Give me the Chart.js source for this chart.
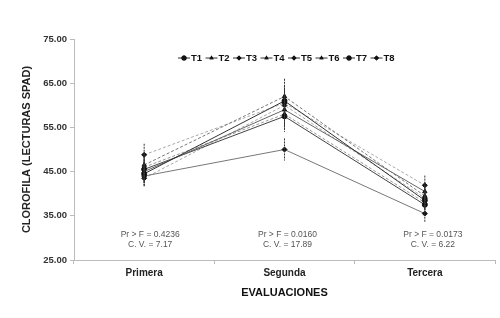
<!DOCTYPE html>
<html>
<head>
<meta charset="utf-8">
<script src="https://cdn.jsdelivr.net/npm/chart.js@4"></script>
<style>
  html, body { margin: 0; padding: 0; background: #fff; }
  #wrap { position: relative; width: 500px; height: 318px; }
</style>
</head>
<body>
<div id="wrap"><canvas id="spadChart"></canvas></div>
<script>
// categories and tick labels
const evaluaciones = ["Primera", "Segunda", "Tercera"];
const yTicks = [25, 35, 45, 55, 65, 75];

// series values (SPAD readings)
const t1 = [44.5, 61.0, 38.5];
const t2 = [46.5, 62.0, 39.5];
const t3 = [48.8, 60.5, 41.9];
const t4 = [45.0, 59.0, 40.5];
const t5 = [44.0, 50.0, 35.5];
const t6 = [46.0, 58.0, 38.0];
const t7 = [45.5, 57.5, 37.5];
const t8 = [43.5, 60.0, 39.0];

// error bar half widths per treatment, one list per evaluation
const errPrimera = [2.5, 2.5, 2.5, 2.5, 2.3, 2.5, 2.5, 2.0];
const errSegunda = [3.5, 4.0, 3.5, 3.5, 2.5, 3.5, 3.5, 3.5];
const errTercera = [2.0, 2.0, 2.2, 2.0, 2.0, 2.0, 2.0, 2.0];

// statistics under each evaluation
const prF = ["Pr > F = 0.4236", "Pr > F = 0.0160", "Pr > F = 0.0173"];
const cv = ["C. V. = 7.17", "C. V. = 17.89", "C. V. = 6.22"];

const series = [t1, t2, t3, t4, t5, t6, t7, t8];
const errs = [errPrimera, errSegunda, errTercera];
const names = ["T1", "T2", "T3", "T4", "T5", "T6", "T7", "T8"];
const colors = ["#333", "#777", "#aaa", "#666", "#777", "#999", "#444", "#aaa"];
const dashes = [[], [3, 2], [3, 2], [], [], [3, 2], [], [3, 2]];
const shapes = ["circle", "triangle", "rectRot", "triangle", "rectRot", "triangle", "circle", "rectRot"];
const statShift = [6, 3, 8];

const errorBars = {
  id: "errorBars",
  afterDatasetsDraw(chart) {
    const { ctx, scales } = chart;
    ctx.save();
    ctx.strokeStyle = "#333";
    ctx.lineWidth = 1;
    ctx.setLineDash([2, 1]);
    series.forEach(function (vals, i) {
      vals.forEach(function (v, j) {
        const x = scales.x.getPixelForValue(j);
        const top = scales.y.getPixelForValue(v + errs[j][i]);
        const bot = scales.y.getPixelForValue(v - errs[j][i]);
        ctx.beginPath();
        ctx.moveTo(x, top);
        ctx.lineTo(x, bot);
        ctx.stroke();
      });
    });
    ctx.setLineDash([]);
    ctx.restore();
  },
};

const statsText = {
  id: "statsText",
  afterDraw(chart) {
    const { ctx, scales } = chart;
    ctx.save();
    ctx.fillStyle = "#555";
    ctx.font = "8.5px 'Liberation Sans', Arial, sans-serif";
    ctx.textAlign = "center";
    evaluaciones.forEach(function (e, j) {
      const x = scales.x.getPixelForValue(j) + statShift[j];
      ctx.fillText(prF[j], x, 237);
      ctx.fillText(cv[j], x, 247);
    });
    ctx.restore();
  },
};

const lineLegend = {
  id: "lineLegend",
  afterDraw(chart) {
    const { ctx } = chart;
    ctx.save();
    ctx.font = "bold 9.5px 'Liberation Sans', Arial, sans-serif";
    ctx.textBaseline = "middle";
    let x = 178;
    const y = 58;
    names.forEach(function (n, i) {
      ctx.strokeStyle = "#333";
      ctx.lineWidth = 1;
      ctx.beginPath();
      ctx.moveTo(x, y);
      ctx.lineTo(x + 12, y);
      ctx.stroke();
      Chart.helpers.drawPoint(ctx, { pointStyle: shapes[i], radius: 2.5, rotation: 0 }, x + 6, y);
      ctx.fillStyle = "#111";
      ctx.fill();
      ctx.fillText(n, x + 13, y);
      x += 27.5;
    });
    ctx.restore();
  },
};

const ctx = document.getElementById("spadChart");

new Chart(ctx, {
  type: "line",
  data: {
    labels: evaluaciones,
    datasets: series.map(function (vals, i) {
      return {
        label: names[i],
        data: vals,
        borderColor: colors[i],
        borderWidth: 1,
        borderDash: dashes[i],
        pointStyle: shapes[i],
        pointRadius: 2.5,
        pointBackgroundColor: "#111",
        pointBorderColor: "#111",
        tension: 0,
        fill: false,
      };
    }),
  },
  options: {
    responsive: true,
    maintainAspectRatio: false,
    animation: false,
    layout: {
      padding: { top: 39, right: 3, left: 20, bottom: 18 },
    },
    plugins: {
      legend: { display: false },
      tooltip: { enabled: false },
    },
    scales: {
      y: {
        min: 25,
        max: 75,
        afterBuildTicks: function (scale) {
          scale.ticks = yTicks.map(function (v) { return { value: v }; });
        },
        afterFit: function (scale) {
          scale.width = 54;
        },
        border: { color: "#bbb" },
        grid: { drawOnChartArea: false, tickLength: 4, color: "#bbb" },
        ticks: {
          color: "#333",
          padding: 3,
          font: { family: "'Liberation Sans', Arial", size: 9.5, weight: "bold" },
          callback: function (value) {
            return value.toFixed(2);
          },
        },
        title: {
          display: true,
          text: "CLOROFILA (LECTURAS SPAD)",
          color: "#222",
          padding: 0,
          font: { family: "'Liberation Sans', Arial", size: 11, weight: "bold" },
        },
      },
      x: {
        offset: true,
        afterFit: function (scale) {
          scale.height = 40;
        },
        border: { color: "#bbb" },
        grid: { offset: true, drawOnChartArea: false, tickLength: 4, color: "#bbb" },
        ticks: {
          color: "#222",
          padding: 3,
          font: { family: "'Liberation Sans', Arial", size: 10, weight: "bold" },
        },
        title: {
          display: true,
          text: "EVALUACIONES",
          color: "#111",
          padding: 0,
          font: { family: "'Liberation Sans', Arial", size: 11, weight: "bold" },
        },
      },
    },
  },
  plugins: [errorBars, statsText, lineLegend],
});
</script>
</body>
</html>
